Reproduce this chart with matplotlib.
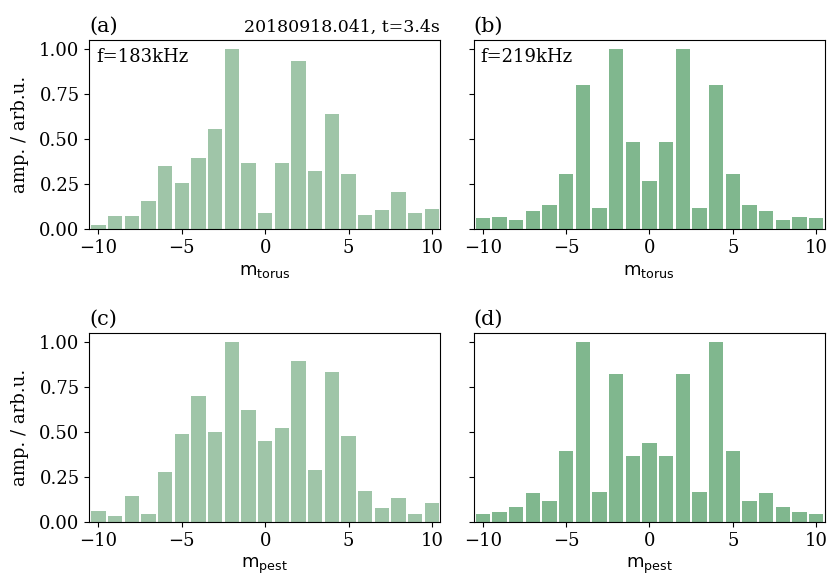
import numpy as np
import matplotlib
matplotlib.use("Agg")
import matplotlib.pyplot as plt

plt.rcParams["font.family"] = "DejaVu Serif"
plt.rcParams["mathtext.fontset"] = "dejavusans"
plt.rcParams["font.size"] = 13

m = np.arange(-10, 11)

amp_torus_183 = [0.024, 0.074, 0.074, 0.158, 0.353, 0.258, 0.398, 0.559, 1.0, 0.370, 0.091,
                 0.370, 0.933, 0.325, 0.638, 0.309, 0.080, 0.108, 0.208, 0.091, 0.113]
amp_torus_219 = [0.063, 0.069, 0.052, 0.102, 0.136, 0.309, 0.799, 0.119, 1.0, 0.487, 0.270,
                 0.487, 1.0, 0.119, 0.799, 0.309, 0.136, 0.102, 0.052, 0.069, 0.063]
amp_pest_183 = [0.063, 0.035, 0.147, 0.047, 0.276, 0.488, 0.700, 0.499, 1.0, 0.622, 0.449,
                0.521, 0.896, 0.292, 0.834, 0.477, 0.175, 0.080, 0.136, 0.047, 0.108]
amp_pest_219 = [0.047, 0.058, 0.086, 0.164, 0.119, 0.393, 1.0, 0.169, 0.823, 0.365, 0.438,
                0.365, 0.823, 0.169, 1.0, 0.393, 0.119, 0.164, 0.086, 0.058, 0.047]

col_183 = "#9fc5a8"
col_219 = "#80b78e"

fig, axs = plt.subplots(2, 2, figsize=(8.27, 5.75), dpi=100, sharey="row")
fig.subplots_adjust(left=0.108, right=0.997, top=0.93, bottom=0.092, wspace=0.095, hspace=0.55)

panels = [
    (axs[0, 0], amp_torus_183, col_183, "(a)", r"$\mathrm{m_{torus}}$", "f=183kHz"),
    (axs[0, 1], amp_torus_219, col_219, "(b)", r"$\mathrm{m_{torus}}$", "f=219kHz"),
    (axs[1, 0], amp_pest_183, col_183, "(c)", r"$\mathrm{m_{pest}}$", None),
    (axs[1, 1], amp_pest_219, col_219, "(d)", r"$\mathrm{m_{pest}}$", None),
]

for ax, amp, col, tag, xlab, ftxt in panels:
    ax.bar(m, amp, width=0.85, color=col)
    ax.set_xlim(-10.55, 10.5)
    ax.set_ylim(0, 1.05)
    ax.set_yticks([0, 0.25, 0.5, 0.75, 1.0])
    ax.set_xticks([-10, -5, 0, 5, 10])
    ax.set_xlabel(xlab, fontsize=13)
    ax.set_title(tag, loc="left", fontsize=15)
    if ftxt:
        ax.text(0.02, 0.96, ftxt, transform=ax.transAxes, ha="left", va="top", fontsize=13)

axs[0, 0].set_ylabel("amp. / arb.u.", labelpad=7)
axs[1, 0].set_ylabel("amp. / arb.u.", labelpad=7)
axs[0, 0].set_title("20180918.041, t=3.4s", loc="right", fontsize=12.5)

fig.savefig("out.png", dpi=100)
